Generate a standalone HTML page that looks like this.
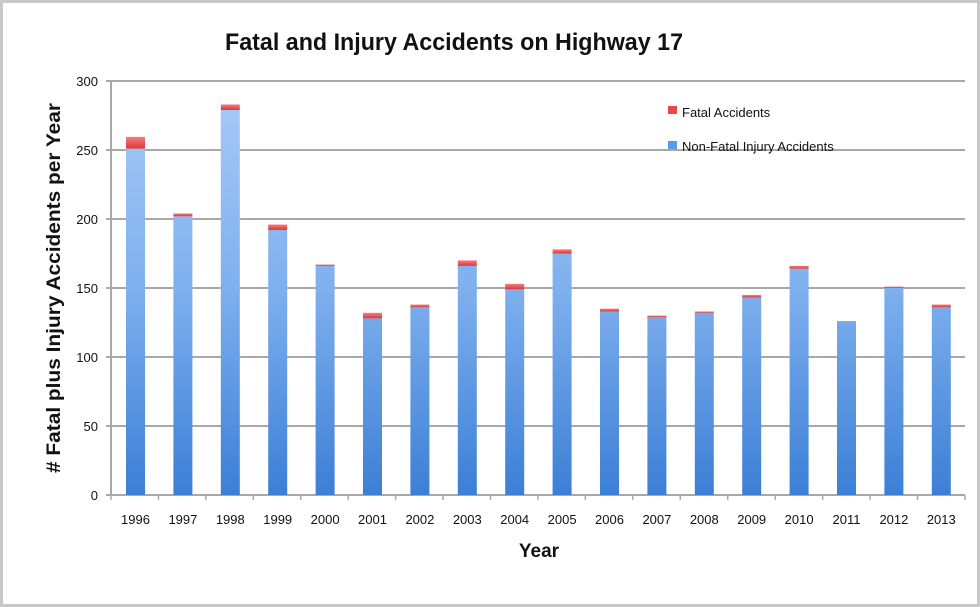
<!DOCTYPE html>
<html><head><meta charset="utf-8"><style>
html,body{margin:0;padding:0;background:#fff;}
svg{display:block;}
text{font-family:"Liberation Sans",sans-serif;fill:#111;}
</style></head><body>
<svg width="980" height="607" viewBox="0 0 980 607" xmlns="http://www.w3.org/2000/svg">
<defs>
<linearGradient id="bl" x1="0" y1="81" x2="0" y2="495" gradientUnits="userSpaceOnUse">
<stop offset="0" stop-color="#a9cbf7"/><stop offset="0.5" stop-color="#7fb0ee"/><stop offset="1" stop-color="#3c7fd6"/>
</linearGradient>
<linearGradient id="rd" x1="0" y1="0" x2="0" y2="1">
<stop offset="0" stop-color="#f08080"/><stop offset="1" stop-color="#e03535"/>
</linearGradient>
</defs>
<rect x="1.5" y="1.5" width="977" height="604" fill="#fff" stroke="#c8c8c8" stroke-width="3"/>
<text x="454" y="50" font-size="24" font-weight="bold" text-anchor="middle" textLength="458" lengthAdjust="spacingAndGlyphs">Fatal and Injury Accidents on Highway 17</text>
<g stroke="#a8a8a8" stroke-width="2">
<line x1="106" y1="81" x2="965" y2="81"/>
<line x1="106" y1="150" x2="965" y2="150"/>
<line x1="106" y1="219" x2="965" y2="219"/>
<line x1="106" y1="288" x2="965" y2="288"/>
<line x1="106" y1="357" x2="965" y2="357"/>
<line x1="106" y1="426" x2="965" y2="426"/>
<line x1="106" y1="495" x2="965" y2="495"/>
<line x1="111" y1="81" x2="111" y2="495"/>
</g>
<path stroke="#a8a8a8" stroke-width="1.5" fill="none" d="M111 495v5M158.44 495v5M205.88 495v5M253.32 495v5M300.76 495v5M348.2 495v5M395.64 495v5M443.08 495v5M490.52 495v5M537.96 495v5M585.4 495v5M632.84 495v5M680.28 495v5M727.72 495v5M775.16 495v5M822.6 495v5M870.04 495v5M917.48 495v5M965 495v5"/>
<g fill="url(#bl)">
<rect x="126" y="148.62" width="19" height="346.38"/>
<rect x="173.4" y="216.24" width="19" height="278.76"/>
<rect x="220.8" y="109.98" width="19" height="385.02"/>
<rect x="268.2" y="230.04" width="19" height="264.96"/>
<rect x="315.6" y="265.92" width="19" height="229.08"/>
<rect x="363" y="318.36" width="19" height="176.64"/>
<rect x="410.4" y="307.32" width="19" height="187.68"/>
<rect x="457.8" y="265.92" width="19" height="229.08"/>
<rect x="505.2" y="289.38" width="19" height="205.62"/>
<rect x="552.6" y="253.5" width="19" height="241.5"/>
<rect x="600" y="311.46" width="19" height="183.54"/>
<rect x="647.4" y="316.98" width="19" height="178.02"/>
<rect x="694.8" y="312.84" width="19" height="182.16"/>
<rect x="742.2" y="297.66" width="19" height="197.34"/>
<rect x="789.6" y="268.68" width="19" height="226.32"/>
<rect x="837" y="321.12" width="19" height="173.88"/>
<rect x="884.4" y="288" width="19" height="207"/>
<rect x="931.8" y="307.32" width="19" height="187.68"/>
</g>
<g fill="url(#rd)">
<rect x="126" y="136.89" width="19" height="11.73"/>
<rect x="173.4" y="213.48" width="19" height="2.76"/>
<rect x="220.8" y="104.46" width="19" height="5.52"/>
<rect x="268.2" y="224.52" width="19" height="5.52"/>
<rect x="315.6" y="264.54" width="19" height="1.38"/>
<rect x="363" y="312.84" width="19" height="5.52"/>
<rect x="410.4" y="304.56" width="19" height="2.76"/>
<rect x="457.8" y="260.4" width="19" height="5.52"/>
<rect x="505.2" y="283.86" width="19" height="5.52"/>
<rect x="552.6" y="249.36" width="19" height="4.14"/>
<rect x="600" y="308.7" width="19" height="2.76"/>
<rect x="647.4" y="315.6" width="19" height="1.38"/>
<rect x="694.8" y="311.46" width="19" height="1.38"/>
<rect x="742.2" y="294.9" width="19" height="2.76"/>
<rect x="789.6" y="265.92" width="19" height="2.76"/>
<rect x="884.4" y="286.62" width="19" height="1.38"/>
<rect x="931.8" y="304.56" width="19" height="2.76"/>
</g>
<g font-size="13" text-anchor="end">
<text x="98" y="86">300</text><text x="98" y="155">250</text><text x="98" y="224">200</text>
<text x="98" y="293">150</text><text x="98" y="362">100</text><text x="98" y="431">50</text><text x="98" y="500">0</text>
</g>
<g font-size="13" text-anchor="middle">
<text x="135.5" y="524">1996</text><text x="182.9" y="524">1997</text><text x="230.3" y="524">1998</text>
<text x="277.7" y="524">1999</text><text x="325.1" y="524">2000</text><text x="372.5" y="524">2001</text>
<text x="419.9" y="524">2002</text><text x="467.3" y="524">2003</text><text x="514.7" y="524">2004</text>
<text x="562.1" y="524">2005</text><text x="609.5" y="524">2006</text><text x="656.9" y="524">2007</text>
<text x="704.3" y="524">2008</text><text x="751.7" y="524">2009</text><text x="799.1" y="524">2010</text>
<text x="846.5" y="524">2011</text><text x="893.9" y="524">2012</text><text x="941.3" y="524">2013</text>
</g>
<text x="539" y="557" font-size="19" font-weight="bold" text-anchor="middle">Year</text>
<text transform="translate(60,288) rotate(-90)" font-size="19" font-weight="bold" text-anchor="middle" textLength="370" lengthAdjust="spacingAndGlyphs"># Fatal plus Injury Accidents per Year</text>
<rect x="668" y="106" width="9" height="8" fill="#e84848"/>
<text x="682" y="117" font-size="13">Fatal Accidents</text>
<rect x="668" y="141" width="9" height="8" fill="#5a9ae8"/>
<text x="682" y="151" font-size="13">Non-Fatal Injury Accidents</text>
</svg>
</body></html>
